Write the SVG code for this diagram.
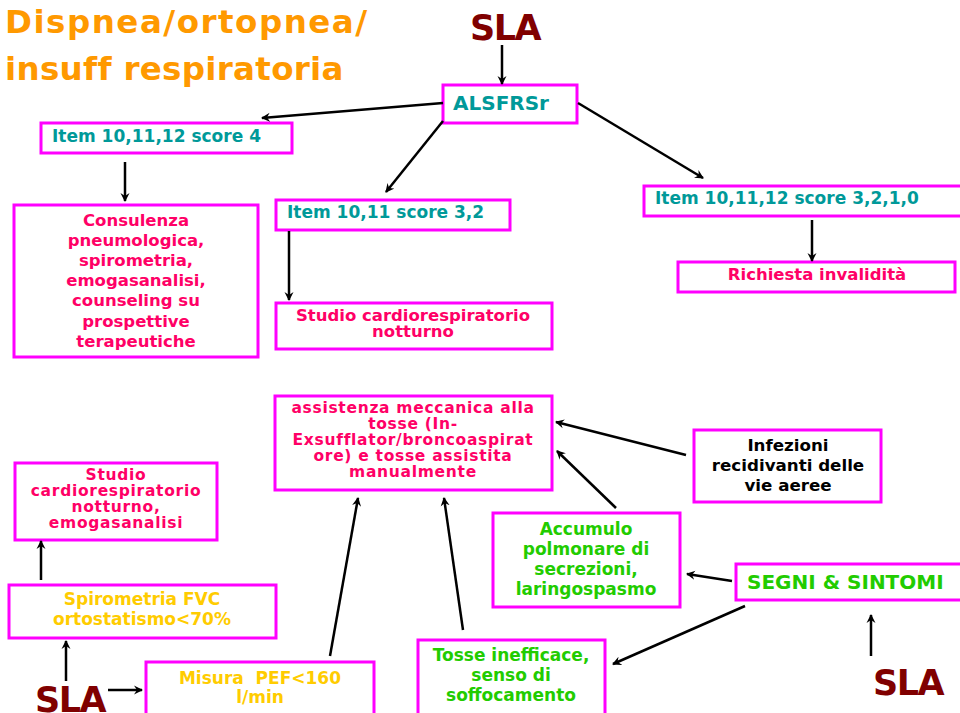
<svg xmlns="http://www.w3.org/2000/svg" width="960" height="713" viewBox="0 0 960 713">
<defs>
<marker id="ah" markerWidth="10" markerHeight="10" refX="8" refY="5" orient="auto" markerUnits="userSpaceOnUse">
<path d="M0,0.5 L9,5 L0,9.5 L3,5 Z" fill="#000"/>
</marker>
</defs>
<style>
text{font-family:"DejaVu Sans","Verdana",sans-serif;font-weight:bold}
.box{fill:#fff;stroke:#FF00FF;stroke-width:3}
.teal{fill:#009999;font-size:17px}
.red{fill:#FF0066;font-size:16.5px;text-anchor:middle}
.tight{font-size:15.5px;letter-spacing:0.7px}
.grn{fill:#22CC00;font-size:17px;text-anchor:middle}
.yel{fill:#FFCC00;font-size:17px;text-anchor:middle}
.blk{fill:#000;font-size:16.7px;text-anchor:middle}
.sla{fill:#800000;font-size:35px;letter-spacing:-1.5px}
.title{fill:#FF9900;font-size:32.5px}
.con line{stroke:#000;stroke-width:2.5;marker-end:url(#ah)}
</style>
<rect width="960" height="713" fill="#fff"/>

<g id="title">
<text class="title" x="5" y="33" style="letter-spacing:1.5px">Dispnea/ortopnea/</text>
<text class="title" x="5" y="80" style="letter-spacing:0.3px">insuff respiratoria</text>
</g>

<g id="sla-top"><text class="sla" x="470" y="40">SLA</text></g>

<g id="alsfrs">
<rect class="box" x="443" y="85" width="134" height="38"/>
<text class="teal" x="453" y="110" style="font-size:20px">ALSFRSr</text>
</g>

<g id="item4">
<rect class="box" x="41" y="123" width="251" height="30"/>
<text class="teal" x="52" y="142">Item 10,11,12 score 4</text>
</g>

<g id="consulenza">
<rect class="box" x="14" y="205" width="244" height="152"/>
<text class="red" x="136" y="226">Consulenza</text>
<text class="red" x="136" y="246">pneumologica,</text>
<text class="red" x="136" y="266">spirometria,</text>
<text class="red" x="136" y="286">emogasanalisi,</text>
<text class="red" x="136" y="306">counseling su</text>
<text class="red" x="136" y="327">prospettive</text>
<text class="red" x="136" y="347">terapeutiche</text>
</g>

<g id="item32">
<rect class="box" x="276" y="200" width="234" height="30"/>
<text class="teal" x="287" y="218">Item 10,11 score 3,2</text>
</g>

<g id="studio1">
<rect class="box" x="276" y="303" width="276" height="46"/>
<text class="red" x="413" y="321">Studio cardiorespiratorio</text>
<text class="red" x="413" y="337">notturno</text>
</g>

<g id="item3210">
<rect class="box" x="644" y="186" width="330" height="30"/>
<text class="teal" x="655" y="204">Item 10,11,12 score 3,2,1,0</text>
</g>

<g id="invalidita">
<rect class="box" x="678" y="262" width="277" height="30"/>
<text class="red" x="817" y="280">Richiesta invalidità</text>
</g>

<g id="assistenza">
<rect class="box" x="275" y="396" width="277" height="94"/>
<text class="red tight" x="413" y="413">assistenza meccanica alla</text>
<text class="red tight" x="413" y="429">tosse (In-</text>
<text class="red tight" x="413" y="445">Exsufflator/broncoaspirat</text>
<text class="red tight" x="413" y="461">ore) e tosse assistita</text>
<text class="red tight" x="413" y="477">manualmente</text>
</g>

<g id="infezioni">
<rect class="box" x="694" y="430" width="187" height="72"/>
<text class="blk" x="788" y="451">Infezioni</text>
<text class="blk" x="788" y="471">recidivanti delle</text>
<text class="blk" x="788" y="491">vie aeree</text>
</g>

<g id="accumulo">
<rect class="box" x="493" y="513" width="187" height="94"/>
<text class="grn" x="586" y="535">Accumulo</text>
<text class="grn" x="586" y="555">polmonare di</text>
<text class="grn" x="586" y="575">secrezioni,</text>
<text class="grn" x="586" y="595">laringospasmo</text>
</g>

<g id="segni">
<rect class="box" x="736" y="564" width="240" height="36"/>
<text class="grn" x="747" y="589" style="text-anchor:start;font-size:20px">SEGNI &amp; SINTOMI</text>
</g>

<g id="sla-br"><text class="sla" x="873" y="695">SLA</text></g>

<g id="tosse">
<rect class="box" x="418" y="640" width="187" height="80"/>
<text class="grn" x="511" y="661">Tosse inefficace,</text>
<text class="grn" x="511" y="681">senso di</text>
<text class="grn" x="511" y="701">soffocamento</text>
</g>

<g id="misura">
<rect class="box" x="146" y="662" width="228" height="60"/>
<text class="yel" x="260" y="684">Misura&#160; PEF&lt;160</text>
<text class="yel" x="260" y="703">l/min</text>
</g>

<g id="sla-bl"><text class="sla" x="35" y="712">SLA</text></g>

<g id="spirometria">
<rect class="box" x="9" y="585" width="267" height="53"/>
<text class="yel" x="142" y="605">Spirometria FVC</text>
<text class="yel" x="142" y="625">ortostatismo&lt;70%</text>
</g>

<g id="studio2">
<rect class="box" x="15" y="463" width="202" height="77"/>
<text class="red tight" x="116" y="480">Studio</text>
<text class="red tight" x="116" y="496">cardiorespiratorio</text>
<text class="red tight" x="116" y="512">notturno,</text>
<text class="red tight" x="116" y="528">emogasanalisi</text>
</g>

<g id="connectors" class="con">
<line x1="502" y1="45" x2="502" y2="84"/>
<line x1="443" y1="103" x2="262" y2="118"/>
<line x1="125" y1="162" x2="125" y2="201"/>
<line x1="443" y1="121" x2="386" y2="192"/>
<line x1="289" y1="231" x2="289" y2="300"/>
<line x1="578" y1="103" x2="703" y2="178"/>
<line x1="812" y1="220" x2="812" y2="261"/>
<line x1="686" y1="455" x2="556" y2="422"/>
<line x1="616" y1="508" x2="557" y2="451"/>
<line x1="732" y1="581" x2="687" y2="574"/>
<line x1="745" y1="606" x2="613" y2="664"/>
<line x1="871" y1="656" x2="871" y2="615"/>
<line x1="463" y1="630" x2="444" y2="498"/>
<line x1="330" y1="656" x2="358" y2="498"/>
<line x1="108" y1="690" x2="142" y2="690"/>
<line x1="66" y1="681" x2="66" y2="641"/>
<line x1="41" y1="580" x2="41" y2="541"/>
</g>
</svg>
